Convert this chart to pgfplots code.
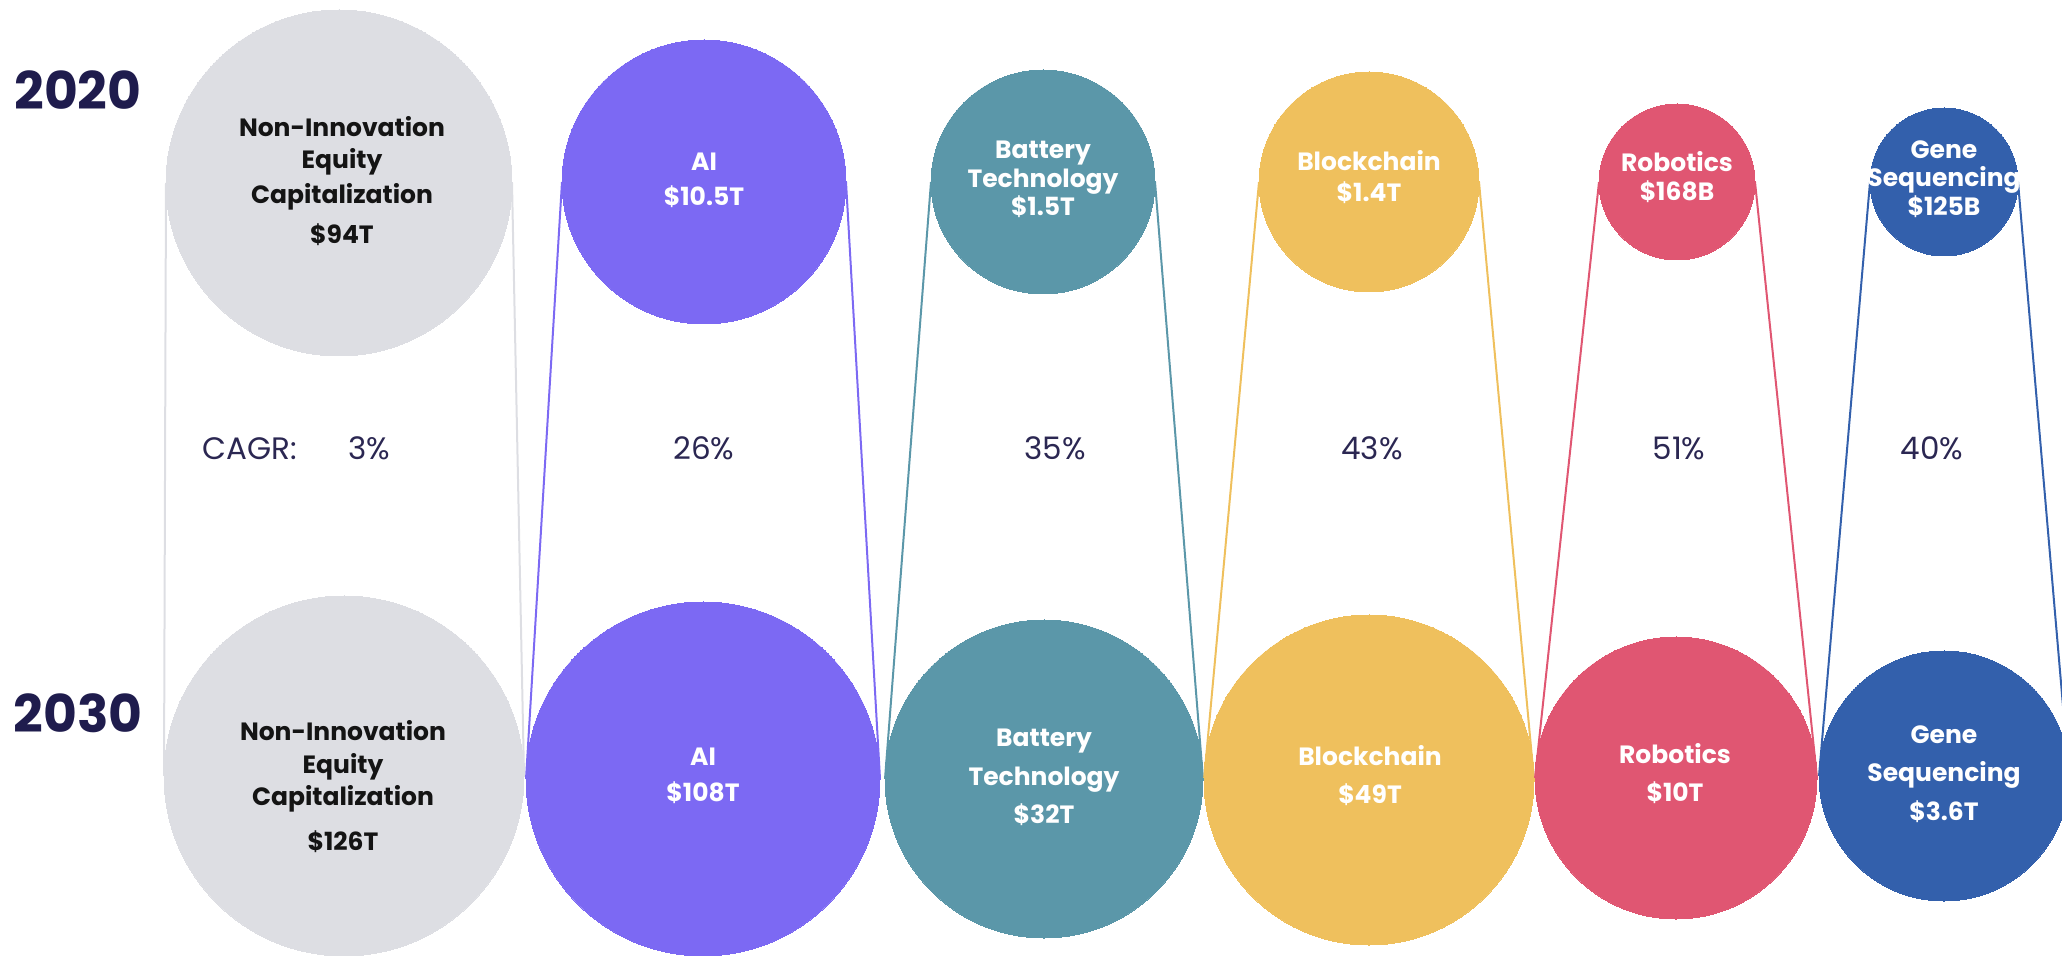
\documentclass[border=0pt]{standalone}
\usepackage{pgfplots}
\pgfplotsset{compat=1.18}
\usepackage{pgfplotstable}
\usepackage{fontspec}
\setmainfont{Poppins}
\definecolor{cgray}{HTML}{DDDEE3}
\definecolor{cpurple}{HTML}{7C69F3}
\definecolor{cteal}{HTML}{5B97A9}
\definecolor{cyellow}{HTML}{EFC05D}
\definecolor{cred}{HTML}{E05672}
\definecolor{cblue}{HTML}{3360AC}
\definecolor{cnavy}{HTML}{1F1C4D}
\definecolor{ctext}{HTML}{2B2752}
\definecolor{clabel}{HTML}{141414}

% circle centres and radii (in reference pixels, y downwards); row 1 = 2020, row 2 = 2030
\pgfplotstableread{
x y r
339 183 173
344 776 180
}\nonInn
\pgfplotstableread{
x y r
704 182 142
703 779 177
}\ai
\pgfplotstableread{
x y r
1043 182 112
1044 779 159
}\battery
\pgfplotstableread{
x y r
1369 182 110
1369 780 165
}\blockchain
\pgfplotstableread{
x y r
1677 182 78
1676 778 141
}\robotics
\pgfplotstableread{
x y r
1944 182 74
1944 776 125
}\gene

\pgfplotsset{
  frame/.style={at={(0,0)}, anchor=south west,
    width=1031pt, height=478pt, scale only axis,
    xmin=0, xmax=2062, ymin=0, ymax=956, y dir=reverse,
    hide axis, clip=true},
  bubble/.style={scatter, only marks, mark=*,
    scatter/use mapped color={draw=#1, fill=#1},
    mark options={draw=#1, fill=#1, line width=0pt},
    visualization depends on={0.5*\thisrow{r} \as \rad},
    scatter/@pre marker code/.append style={/tikz/mark size=\rad pt, /tikz/draw=#1, /tikz/fill=#1}},
  link/.style={#1, line width=1pt, no marks}
}
\newcommand{\lbl}{\fontsize{12.5}{15}\selectfont\bfseries}

\begin{document}
\begin{tikzpicture}
\useasboundingbox (0,0) rectangle (1031pt,478pt);
\begin{axis}[frame]
% connecting lines (outer extremes of the 2020 circle to those of the 2030 circle)
\addplot[link=cgray]   coordinates {(166,183) (164,776)};
\addplot[link=cgray]   coordinates {(512,183) (524,776)};
\addplot[link=cpurple] coordinates {(562,182) (526,779)};
\addplot[link=cpurple] coordinates {(846,182) (880,779)};
\addplot[link=cteal]   coordinates {(931,182) (885,779)};
\addplot[link=cteal]   coordinates {(1155,182) (1203,779)};
\addplot[link=cyellow] coordinates {(1259,182) (1204,780)};
\addplot[link=cyellow] coordinates {(1479,182) (1534,780)};
\addplot[link=cred]    coordinates {(1599,182) (1535,778)};
\addplot[link=cred]    coordinates {(1755,182) (1817,778)};
\addplot[link=cblue]   coordinates {(1870,182) (1819,776)};
\addplot[link=cblue]   coordinates {(2018,182) (2069,776)};

% bubbles
\addplot[bubble=cgray]   table[x=x,y=y] {\nonInn};
\addplot[bubble=cpurple] table[x=x,y=y] {\ai};
\addplot[bubble=cteal]   table[x=x,y=y] {\battery};
\addplot[bubble=cyellow] table[x=x,y=y] {\blockchain};
\addplot[bubble=cred]    table[x=x,y=y] {\robotics};
\addplot[bubble=cblue]   table[x=x,y=y] {\gene};
\end{axis}

\begin{axis}[frame]
% year labels
\node[anchor=base, inner sep=0, text=cnavy, font=\fontsize{26}{30}\selectfont\bfseries] at (axis cs:78,110) {2020};
\node[anchor=base, inner sep=0, text=cnavy, font=\fontsize{26}{30}\selectfont\bfseries] at (axis cs:78,733) {2030};

% CAGR row
\begin{scope}[every node/.style={anchor=base, inner sep=0, text=ctext, font=\fontsize{15.5}{18}\selectfont}]
\node at (axis cs:250,460) {CAGR:};
\node at (axis cs:369,460) {3\%};
\node at (axis cs:704,460) {26\%};
\node at (axis cs:1055,460) {35\%};
\node at (axis cs:1372,460) {43\%};
\node at (axis cs:1679,460) {51\%};
\node at (axis cs:1932,460) {40\%};
\end{scope}

\begin{scope}[every node/.style={anchor=base, inner sep=0, text=clabel, font=\lbl}]
\node at (axis cs:342,137) {Non-Innovation};
\node at (axis cs:342,169) {Equity};
\node at (axis cs:342,204) {Capitalization};
\node at (axis cs:342,244) {\$94T};
\node at (axis cs:343,741) {Non-Innovation};
\node at (axis cs:343,774) {Equity};
\node at (axis cs:343,806) {Capitalization};
\node at (axis cs:343,851) {\$126T};
\end{scope}
\begin{scope}[every node/.style={anchor=base, inner sep=0, text=white, font=\lbl}]
\node at (axis cs:704,171) {AI};
\node at (axis cs:704,206) {\$10.5T};
\node at (axis cs:1043,159) {Battery};
\node at (axis cs:1043,188) {Technology};
\node at (axis cs:1043,216) {\$1.5T};
\node at (axis cs:1369,171) {Blockchain};
\node at (axis cs:1369,202) {\$1.4T};
\node at (axis cs:1677,172) {Robotics};
\node at (axis cs:1677,201) {\$168B};
\node at (axis cs:1944,159) {Gene};
\node at (axis cs:1944,187) {Sequencing};
\node at (axis cs:1944,216) {\$125B};
% 2030
\node at (axis cs:703,766) {AI};
\node at (axis cs:703,802) {\$108T};
\node at (axis cs:1044,747) {Battery};
\node at (axis cs:1044,786) {Technology};
\node at (axis cs:1044,824) {\$32T};
\node at (axis cs:1370,766) {Blockchain};
\node at (axis cs:1370,804) {\$49T};
\node at (axis cs:1675,764) {Robotics};
\node at (axis cs:1675,802) {\$10T};
\node at (axis cs:1944,744) {Gene};
\node at (axis cs:1944,782) {Sequencing};
\node at (axis cs:1944,821) {\$3.6T};
\end{scope}
\end{axis}
\end{tikzpicture}
\end{document}
